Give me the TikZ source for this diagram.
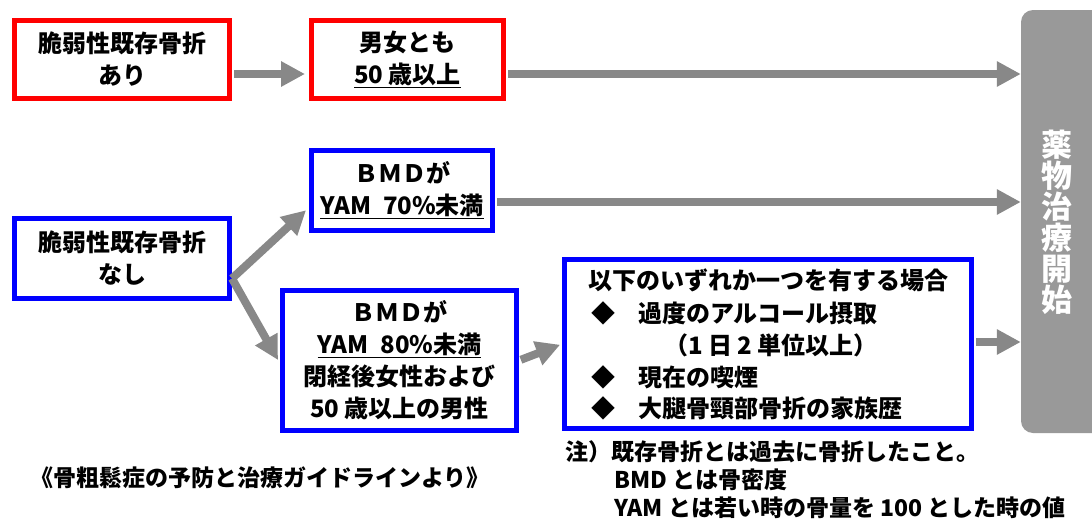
\documentclass[tikz,border=0pt]{standalone}
\usepackage{fontspec}
\setmainfont{Noto Sans CJK JP}
\usetikzlibrary{arrows.meta}

\definecolor{flowgray}{RGB}{136,136,136}
\definecolor{bargray}{RGB}{153,153,153}

\begin{document}
\begin{tikzpicture}[x=1pt, y=-1pt,
		box/.style={draw=#1, line width=5pt, align=center, inner sep=0pt, font=\fontsize{24}{32}\selectfont\bfseries},
		flow/.style={draw=flowgray, line width=8pt, shorten <=2pt, -{Triangle[length=24pt, width=24pt]}},
		txt/.style={anchor=west, inner sep=0pt, font=\fontsize{24}{32}\selectfont\bfseries},
		note/.style={anchor=west, inner sep=0pt, font=\fontsize{23}{28}\selectfont\bfseries}]
		\useasboundingbox (0, 0) rectangle (1092, 525);
		\clip (0, 0) rectangle (1092, 525);
		
		\coordinate (rowa) at (0, 74);
		\coordinate (rowb) at (0, 202);
		\coordinate (rowc) at (0, 342);
		
		\node[box=red, minimum width=215pt, minimum height=78pt] (fxyes) at (122, 59.5) {脆弱性既存骨折\\あり};
		\node[box=red, minimum width=192pt, minimum height=78pt] (age50) at (407.5, 59.5) {男女とも\\\underline{50 歳以上}};
		\node[box=blue, minimum width=181pt, minimum height=80pt] (yam70) at (402, 190.5) {ＢＭＤが\\\underline{YAM\hspace{0.5em}70\%未満}};
		\node[box=blue, minimum width=215pt, minimum height=80pt] (fxno) at (122, 258.5) {脆弱性既存骨折\\なし};
		\node[box=blue, minimum width=234pt, minimum height=140pt] (yam80) at (399.5, 360.5) {ＢＭＤが\\\underline{YAM\hspace{0.5em}80\%未満}\\閉経後女性および\\50 歳以上の男性};
		\node[box=blue, minimum width=407pt, minimum height=169pt] (risk) at (768, 344) {};
		
		\node[txt] (riskhd) at (588, 280) {以下のいずれか一つを有する場合};
		\node[txt] (dia1) at (591, 313) {◆};
		\node[txt] (alc) at (638, 313) {過度のアルコール摂取};
		\node[txt] (unit) at (664, 345) {（1 日 2 単位以上）};
		\node[txt] (dia2) at (591, 377) {◆};
		\node[txt] (smoke) at (638, 377) {現在の喫煙};
		\node[txt] (dia3) at (591, 408) {◆};
		\node[txt] (family) at (638, 408) {大腿骨頸部骨折の家族歴};
		
		\node[fill=bargray, rounded corners=12pt, minimum width=90pt, minimum height=423pt, inner sep=0pt] (drug) at (1066, 221.5) {};
		\node[text=white, align=center, inner sep=0pt, font=\fontsize{31}{31}\selectfont\bfseries] (druglbl) at (1057, 222) {薬\\物\\治\\療\\開\\始};
		
		\draw[flow, shorten >=4pt] (fxyes.east |- rowa) -- (age50.west |- rowa);
		\draw[flow] (age50.east |- rowa) -- (drug.west |- rowa);
		\draw[flow] (yam70.east |- rowb) -- (drug.west |- rowb);
		\draw[flow] (risk.east |- rowc) -- (drug.west |- rowc);
		\draw[flow, shorten <=0pt, shorten >=4pt] ([yshift=-20pt]fxno.east) -- ([yshift=-17pt]yam70.west);
		\draw[flow, shorten <=0pt, shorten >=4pt] ([yshift=-20pt]fxno.east) -- ([yshift=-3pt]yam80.west);
		\draw[flow, shorten >=2pt] (yam80.east) -- (risk.west);
		
		\node[note] (src) at (30, 478) {《骨粗鬆症の予防と治療ガイドラインより》};
		\node[note] (note1) at (565, 452) {注）既存骨折とは過去に骨折したこと。};
		\node[note] (note2) at (614, 480) {BMD とは骨密度};
		\node[note] (note3) at (614, 508) {YAM とは若い時の骨量を 100 とした時の値};
\end{tikzpicture}
\end{document}
